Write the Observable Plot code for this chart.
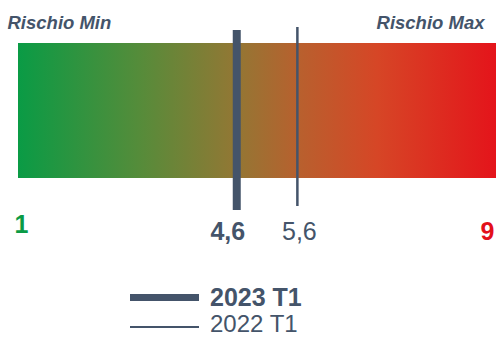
<!DOCTYPE html>
<html>
<head>
<meta charset="utf-8">
<script src="https://cdn.jsdelivr.net/npm/d3@7"></script>
<script src="https://cdn.jsdelivr.net/npm/@observablehq/plot@0.6"></script>
<style>
  html, body { margin: 0; padding: 0; background: #fff; }
  body { width: 496px; height: 338px; overflow: hidden; font-family: "Liberation Sans", Arial, sans-serif; }
  #chart svg { display: block; }
  #legend { position: relative; height: 68px; }
  .row { position: absolute; left: 130px; display: flex; align-items: center; color: #44546a; }
  .sw { width: 69px; background: #44546a; margin-right: 11px; }
</style>
</head>
<body>
<div id="chart"></div>
<div id="legend"></div>
<script>
// Data
const scaleMin = 1;
const scaleMax = 9;
const endLabels = ["Rischio Min", "Rischio Max"];
const series = ["2023 T1", "2022 T1"];
const values = [4.6, 5.6];
const valueLabels = ["4,6", "5,6"];
const gradientColors = ["#0a9b45", "#558c3a", "#937734", "#b8602e", "#d64626", "#e5111a"];
const gradientOffsets = [0, 0.25, 0.45, 0.58, 0.74, 1];

const ink = "#44546a";
const font = "Liberation Sans, Arial, sans-serif";

const plot = Plot.plot({
  width: 496,
  height: 270,
  marginTop: 43,
  marginBottom: 92,
  marginLeft: 0,
  marginRight: 0,
  x: { domain: [scaleMin, scaleMax], range: [18, 503], axis: null },
  style: { fontFamily: font, background: "#fff", overflow: "visible" },
  marks: [
    Plot.rect([{ a: scaleMin, b: scaleMax }], { x1: "a", x2: "b", fill: "url(#riskGrad)" }),
    // current value: thick
    Plot.ruleX([values[0]], { stroke: ink, strokeWidth: 8, insetTop: -13, insetBottom: -32 }),
    // previous value: thin
    Plot.ruleX([values[1]], { stroke: ink, strokeWidth: 2.5, insetTop: -16, insetBottom: -28 }),
    // value labels
    Plot.text([values[0]], { x: d => d, text: [valueLabels[0]], frameAnchor: "bottom", dy: 61, dx: -9, fontSize: 25, fontWeight: "bold", fill: ink }),
    Plot.text([values[1]], { x: d => d, text: [valueLabels[1]], frameAnchor: "bottom", dy: 61, dx: 2, fontSize: 25, fill: ink }),
    // scale ends
    Plot.text([scaleMin], { x: d => d, text: [String(scaleMin)], frameAnchor: "bottom", textAnchor: "start", dy: 54, dx: -4, fontSize: 25, fontWeight: "bold", fill: "#0a9b45" }),
    Plot.text([scaleMax], { x: d => d, text: [String(scaleMax)], frameAnchor: "bottom", textAnchor: "end", dy: 61, dx: -9, fontSize: 25, fontWeight: "bold", fill: "#e3101a" }),
    // end titles
    Plot.text([scaleMin], { x: d => d, text: [endLabels[0]], frameAnchor: "top", textAnchor: "start", dy: -28, dx: -11, fontSize: 18.5, fontWeight: "bold", fontStyle: "italic", fill: ink }),
    Plot.text([scaleMax], { x: d => d, text: [endLabels[1]], frameAnchor: "top", textAnchor: "end", dy: -28, dx: -19, fontSize: 18.5, fontWeight: "bold", fontStyle: "italic", fill: ink })
  ]
});

// gradient definition
const ns = "http://www.w3.org/2000/svg";
const defs = document.createElementNS(ns, "defs");
const grad = document.createElementNS(ns, "linearGradient");
grad.setAttribute("id", "riskGrad");
grad.setAttribute("x1", "0"); grad.setAttribute("x2", "1");
grad.setAttribute("y1", "0"); grad.setAttribute("y2", "0");
gradientColors.forEach((c, i) => {
  const s = document.createElementNS(ns, "stop");
  s.setAttribute("offset", gradientOffsets[i]);
  s.setAttribute("stop-color", c);
  grad.appendChild(s);
});
defs.appendChild(grad);
plot.insertBefore(defs, plot.firstChild);
document.getElementById("chart").appendChild(plot);

// legend
const legend = document.getElementById("legend");
const legendStyles = [
  { top: 27, h: 7, weight: "bold", size: 25, swShift: 0 },
  { top: 54, h: 2, weight: "normal", size: 24, swShift: 6 }
];
series.forEach((s, i) => {
  const st = legendStyles[i];
  const row = document.createElement("div");
  row.className = "row";
  row.style.top = (st.top - 11) + "px";
  row.style.height = "22px";
  const sw = document.createElement("div");
  sw.className = "sw";
  sw.style.height = st.h + "px";
  sw.style.marginTop = st.swShift + "px";
  const tx = document.createElement("span");
  tx.textContent = s;
  tx.style.fontSize = st.size + "px";
  tx.style.lineHeight = "22px";
  tx.style.fontWeight = st.weight;
  row.appendChild(sw);
  row.appendChild(tx);
  legend.appendChild(row);
});
</script>
</body>
</html>
